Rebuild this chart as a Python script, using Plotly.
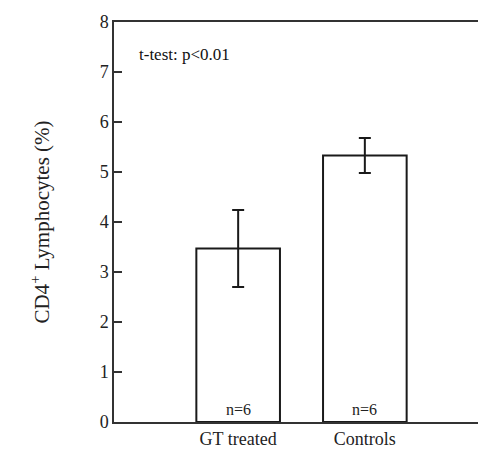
import plotly.graph_objects as go

categories = ["GT treated", "Controls"]
means = [3.47, 5.33]
errors = [0.77, 0.35]
n_labels = ["n=6", "n=6"]
y_ticks = [0, 1, 2, 3, 4, 5, 6, 7, 8]

FONT = "Liberation Serif, serif"

fig = go.Figure()
fig.add_trace(go.Bar(
    x=categories, y=means, width=0.66,
    marker=dict(color="white", line=dict(color="#1a1a1a", width=2)),
    error_y=dict(type="data", array=errors, visible=True, color="#1a1a1a", thickness=2, width=6),
    showlegend=False, hoverinfo="skip",
))

for cat, lab in zip(categories, n_labels):
    fig.add_annotation(
        text=lab, x=cat, y=0, xref="x", yref="y", yanchor="bottom", yshift=2,
        showarrow=False, font=dict(family=FONT, size=16, color="#222"),
    )

fig.add_annotation(
    text="t-test: p<0.01", xref="paper", yref="y", x=0.06, y=7.35,
    xanchor="left", yanchor="middle", showarrow=False,
    font=dict(family=FONT, size=17, color="#111"),
)

fig.update_layout(
    width=486, height=453,
    margin=dict(l=106, r=3, t=14, b=39),
    plot_bgcolor="white", paper_bgcolor="white",
    font=dict(family=FONT, color="#111", size=17),
)
fig.update_xaxes(
    range=[-0.98, 1.98], showline=True, linecolor="#333", linewidth=1.5, mirror=True,
    ticks="", tickfont=dict(family=FONT, size=18, color="#222"), showgrid=False,
)
fig.update_yaxes(
    range=[0, 8], tickvals=y_ticks, showline=True, linecolor="#333", linewidth=1.5, mirror="allticks",
    ticks="inside", ticklen=8, tickcolor="#333", tickwidth=1.5,
    tickfont=dict(family=FONT, size=18, color="#222"), showgrid=False, zeroline=False,
    title=dict(text="CD4<sup>+</sup> Lymphocytes (%)", font=dict(family=FONT, size=21, color="#222"), standoff=44),
)

fig.write_html("out.html")
